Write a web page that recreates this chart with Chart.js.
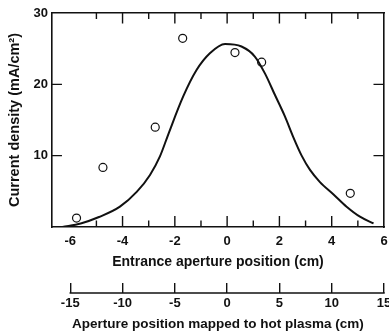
<!DOCTYPE html>
<html>
<head>
<meta charset="utf-8">
<script src="https://cdn.jsdelivr.net/npm/chart.js@4/dist/chart.umd.min.js"></script>
<style>
  html, body { margin: 0; padding: 0; background: #fff; overflow: hidden; }
  canvas { display: block; }
</style>
</head>
<body>
<canvas id="chart" width="389" height="332" style="width:389px;height:332px"></canvas>
<script>
// measured circles (entrance aperture position cm, current density mA/cm2)
const pointX = [-5.76, -4.75, -2.75, -1.7, 0.3, 1.32, 4.71];
const pointY = [1.25, 8.35, 14.0, 26.45, 24.45, 23.1, 4.72];

// fitted curve
const curveX = [-6.3, -5.6, -4.9, -4.1, -3.45, -2.95, -2.57, -2.25, -1.68, -1.17, -0.66, -0.08,
                0.55, 1.06, 1.45, 1.83, 2.21, 2.53, 2.85, 3.17, 3.55, 4.06, 4.57, 5.08, 5.6];
const curveY = [0, 0.5, 1.4, 2.85, 4.95, 7.3, 9.9, 13.0, 18.3, 22.0, 24.35, 25.65,
                25.3, 23.9, 21.5, 18.5, 15.5, 12.6, 10.0, 8.0, 6.3, 4.6, 2.85, 1.45, 0.5];

const xLabels = [-6, -4, -2, 0, 2, 4, 6];
const xMajor = [-4, -2, 0, 2, 4];
const xMinor = [-5, -3, -1, 1, 3, 5];
const yLabels = [10, 20, 30];
const yInner = [10, 20];
const plasmaTicks = [-15, -10, -5, 0, 5, 10, 15];

const X_MIN = -6.7, X_MAX = 6;
const Y_MIN = 0, Y_MAX = 30;
const P_MIN = -16.75, P_MAX = 15;

const ink = '#111';
const tickFont = { family: 'Liberation Sans', weight: 'bold', size: 13 };
const setTicks = (vals) => (axis) => { axis.ticks = vals.map(v => ({ value: v })); };
const noSidePad = (s) => { s.paddingLeft = 0; s.paddingRight = 0; };

// inward tick marks on the box, and the plasma axis line (-15 .. 15)
const innerTicks = {
  id: 'innerTicks',
  afterDraw(chart) {
    const ctx = chart.ctx;
    const sx = chart.scales.x, sy = chart.scales.y, sp = chart.scales.x2;
    const yb = sy.getPixelForValue(Y_MIN), yt = sy.getPixelForValue(Y_MAX);
    const xl = sx.getPixelForValue(X_MIN), xr = sx.getPixelForValue(X_MAX);
    ctx.save();
    ctx.strokeStyle = ink;
    ctx.lineWidth = 1.4;
    ctx.beginPath();
    xMajor.forEach(v => {
      const px = sx.getPixelForValue(v);
      ctx.moveTo(px, yb); ctx.lineTo(px, yb - 11);
      ctx.moveTo(px, yt); ctx.lineTo(px, yt + 10.5);
    });
    xMinor.forEach(v => {
      const px = sx.getPixelForValue(v);
      ctx.moveTo(px, yb); ctx.lineTo(px, yb - 6.5);
      ctx.moveTo(px, yt); ctx.lineTo(px, yt + 6);
    });
    yInner.forEach(v => {
      const py = sy.getPixelForValue(v);
      ctx.moveTo(xl, py); ctx.lineTo(xl + 10, py);
      ctx.moveTo(xr, py); ctx.lineTo(xr - 10.5, py);
    });
    ctx.stroke();
    ctx.lineWidth = 1.6;
    ctx.beginPath();
    const yp = sp.top + 10;
    ctx.moveTo(sp.getPixelForValue(plasmaTicks[0]) - 0.7, yp);
    ctx.lineTo(sp.getPixelForValue(plasmaTicks[plasmaTicks.length - 1]) + 0.7, yp);
    ctx.stroke();
    ctx.restore();
  }
};

new Chart(document.getElementById('chart'), {
  type: 'scatter',
  data: {
    datasets: [
      { type: 'line', data: curveX.map((x, i) => ({ x: x, y: curveY[i] })),
        borderColor: ink, borderWidth: 2, pointRadius: 0,
        cubicInterpolationMode: 'monotone', fill: false, order: 0 },
      { data: pointX.map((x, i) => ({ x: x, y: pointY[i] })),
        pointRadius: 4, borderWidth: 1.2, borderColor: ink,
        backgroundColor: 'rgba(0,0,0,0)', order: 1 }
    ]
  },
  options: {
    responsive: false,
    animation: false,
    layout: { autoPadding: false, padding: { top: 13, right: 5, left: 0, bottom: 0 } },
    plugins: { legend: { display: false }, tooltip: { enabled: false } },
    scales: {
      x: {
        type: 'linear', position: 'bottom', weight: 0,
        min: X_MIN, max: X_MAX,
        afterBuildTicks: setTicks(xLabels),
        afterFit: noSidePad,
        grid: { display: false, drawTicks: false },
        border: { display: true, color: ink, width: 1.6 },
        ticks: { color: ink, font: tickFont, padding: 6.2 },
        title: { display: true, text: 'Entrance aperture position (cm)', color: ink,
                 font: { family: 'Liberation Sans', weight: 'bold', size: 14 },
                 padding: { top: -1.4, bottom: 12.6 } }
      },
      x2: {
        type: 'linear', axis: 'x', position: 'bottom', weight: 1,
        min: P_MIN, max: P_MAX,
        afterBuildTicks: setTicks(plasmaTicks),
        afterFit: noSidePad,
        grid: { drawOnChartArea: false, tickLength: 10, color: ink, lineWidth: 1.4 },
        border: { display: false },
        ticks: { color: ink, font: tickFont, padding: 2.2 },
        title: { display: true, text: 'Aperture position mapped to hot plasma (cm)', color: ink,
                 font: { family: 'Liberation Sans', weight: 'bold', size: 13.5 },
                 padding: { top: 2.8, bottom: 0 } }
      },
      xTop: {
        type: 'linear', axis: 'x', position: 'top',
        min: X_MIN, max: X_MAX,
        grid: { display: false, drawTicks: false },
        border: { display: true, color: ink, width: 1.6 },
        ticks: { display: false }
      },
      y: {
        type: 'linear', position: 'left',
        min: Y_MIN, max: Y_MAX,
        afterBuildTicks: setTicks(yLabels),
        grid: { display: false, drawTicks: false },
        border: { display: true, color: ink, width: 1.6 },
        ticks: { color: ink, font: tickFont, padding: 4 },
        title: { display: true, text: 'Current density (mA/cm²)', color: ink,
                 font: { family: 'Liberation Sans', weight: 'bold', size: 14.5 },
                 padding: { top: 6.3, bottom: 5.8 } }
      },
      yRight: {
        type: 'linear', axis: 'y', position: 'right',
        min: Y_MIN, max: Y_MAX,
        grid: { display: false, drawTicks: false },
        border: { display: true, color: ink, width: 1.6 },
        ticks: { display: false }
      }
    }
  },
  plugins: [innerTicks]
});
</script>
</body>
</html>
